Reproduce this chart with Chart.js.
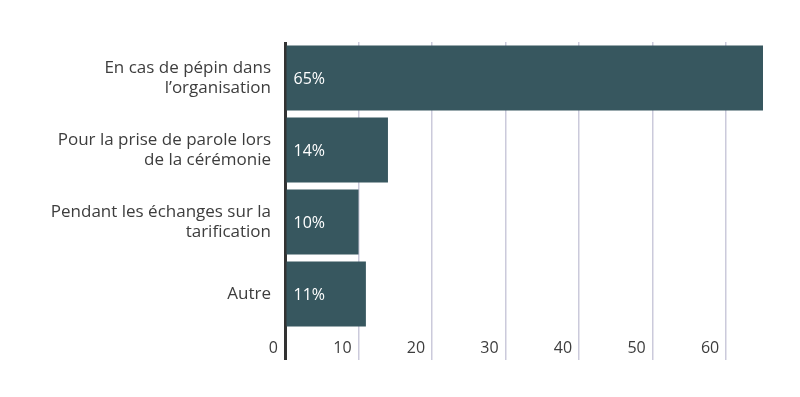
<!DOCTYPE html>
<html>
<head>
<meta charset="utf-8">
<script src="https://cdn.jsdelivr.net/npm/chart.js@4.4.1/dist/chart.umd.min.js"></script>
<style>
    body { margin: 0; background: #fff; }
    #wrap { width: 800px; height: 397px; }
</style>
</head>
<body>
<div id="wrap"><canvas id="barChart"></canvas></div>
<script>
// 카테고리 / 값
const categories = [
    ['En cas de pépin dans', 'l’organisation'],
    ['Pour la prise de parole lors', 'de la cérémonie'],
    ['Pendant les échanges sur la', 'tarification'],
    ['Autre']
];
const percentValues = [65, 14, 10, 11];
const xTickValues = [0, 10, 20, 30, 40, 50, 60];

const FONT = "'Open Sans', sans-serif";
const BAR_COLOR = '#37575f';
const GRID_COLOR = '#cbcadb';
const TEXT_COLOR = '#3d3d3d';

// 막대 안에 % 값 표시
const valueLabels = {
    id: 'valueLabels',
    afterDatasetsDraw(chart) {
        const ctx = chart.ctx;
        const meta = chart.getDatasetMeta(0);
        ctx.save();
        ctx.fillStyle = '#ffffff';
        ctx.font = '16px ' + FONT;
        ctx.textAlign = 'left';
        ctx.textBaseline = 'middle';
        meta.data.forEach(function (bar, i) {
            ctx.fillText(percentValues[i] + '%', bar.base + 7, bar.y + 1);
        });
        ctx.restore();
    }
};

document.addEventListener('DOMContentLoaded', function () {
    new Chart(document.getElementById('barChart'), {
        type: 'bar',
        data: {
            labels: categories,
            datasets: [{
                data: percentValues,
                backgroundColor: BAR_COLOR,
                borderWidth: 0,
                barPercentage: 0.9,
                categoryPercentage: 1.0
            }]
        },
        options: {
            indexAxis: 'y',
            responsive: true,
            maintainAspectRatio: false,
            animation: false,
            layout: { padding: { left: 0, right: 37, top: 42, bottom: 0 } },
            plugins: {
                legend: { display: false },
                tooltip: { enabled: false }
            },
            scales: {
                x: {
                    min: 0,
                    max: 65,
                    afterBuildTicks: function (scale) {
                        scale.ticks = xTickValues.map(function (v) { return { value: v }; });
                    },
                    afterFit: function (scale) { scale.height = 67; },
                    border: { display: false },
                    grid: {
                        color: function (c) { return c.tick && c.tick.value === 0 ? '#333333' : GRID_COLOR; },
                        lineWidth: function (c) { return c.tick && c.tick.value === 0 ? 3 : 1.5; },
                        tickLength: 30,
                        drawTicks: true
                    },
                    ticks: {
                        align: 'end',
                        labelOffset: -7,
                        padding: -21,
                        color: TEXT_COLOR,
                        font: { family: FONT, size: 16 }
                    }
                },
                y: {
                    afterFit: function (scale) { scale.width = 285; },
                    border: { display: false },
                    grid: { display: false, drawTicks: false },
                    ticks: {
                        padding: 14,
                        color: TEXT_COLOR,
                        font: { family: FONT, size: 17, lineHeight: 1.15 }
                    }
                }
            }
        },
        plugins: [valueLabels]
    });
});
</script>
</body>
</html>
